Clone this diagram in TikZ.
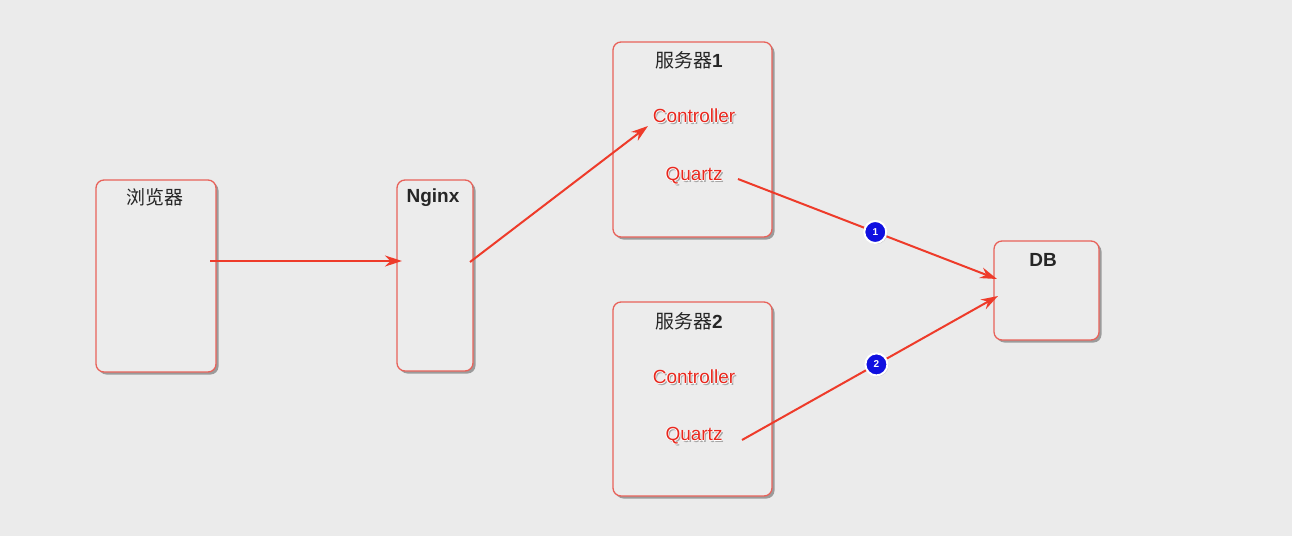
\documentclass[tikz,border=0pt]{standalone}
\usepackage{fontspec}
\setmainfont{Liberation Sans}
\newfontfamily\cjk{Noto Sans CJK SC}
\usetikzlibrary{shadows,arrows.meta}
\definecolor{bg}{HTML}{EBEBEB}
\definecolor{boxfill}{HTML}{ECECEC}
\definecolor{boxline}{HTML}{E8625A}
\definecolor{arrowred}{HTML}{EE3B2A}
\definecolor{txtred}{HTML}{E8281E}
\definecolor{badgeblue}{HTML}{1010E0}
\tikzset{
  panel/.style={draw=boxline, line width=1.3pt, fill=boxfill, rounded corners=8pt,
    drop shadow={shadow xshift=2.5pt, shadow yshift=-2.5pt, opacity=0.5, fill=black!70}},
  title/.style={font=\bfseries\fontsize{19}{22}\selectfont, text=black!85, inner sep=0pt},
  cjktitle/.style={font=\cjk\fontsize{19}{22}\selectfont, text=black!85, inner sep=0pt},
  comp/.style={font=\fontsize{19}{22}\selectfont, text=txtred, inner sep=0pt},
  halo/.style={font=\fontsize{19}{22}\selectfont, text=white, inner sep=0pt},
  link/.style={draw=arrowred, line width=2pt, -{Stealth[length=17pt,width=11pt]}},
  badge/.style={circle, fill=badgeblue, draw=white, line width=2pt, minimum size=22pt,
    inner sep=0pt, text=white, font=\bfseries\fontsize{10}{11}\selectfont,
    drop shadow={shadow xshift=1pt, shadow yshift=-1pt, opacity=0.4}},
}
\newcommand{\digitbf}[1]{{\normalfont\bfseries #1}}
\begin{document}
\begin{tikzpicture}[x=1pt,y=-1pt]
\useasboundingbox[fill=bg] (0,0) rectangle (1292,536);
% boxes
\draw[panel] (96,180) rectangle (216,372);
\draw[panel] (397,180) rectangle (473,371);
\draw[panel] (613,42) rectangle (772,237);
\draw[panel] (613,302) rectangle (772,496);
\draw[panel] (994,241) rectangle (1099,340);
% titles
\node[cjktitle] (browser) at (155,197) {浏览器};
\node[title] (nginx) at (433,198) {Nginx};
\node[cjktitle] (s1) at (689,60) {服务器\digitbf{1}};
\node[cjktitle] (s2) at (689,321) {服务器\digitbf{2}};
\node[title] (db) at (1043,260) {DB};
% components (white halo behind red text)
\foreach \y/\t in {116/Controller,176/Quartz,377/Controller,436/Quartz}{
  \node[halo, text=black!35] at (695.5,\y+1.5) {\t};
  \node[halo] at (694,\y+0.8) {\t};
  \node[halo] at (693.2,\y) {\t};
  \node[halo] at (694.8,\y) {\t};
}
\node[comp] (c1) at (694,116) {Controller};
\node[comp] (q1) at (694,176) {Quartz};
\node[comp] (c2) at (694,377) {Controller};
\node[comp] (q2) at (694,436) {Quartz};
% connector ends
\coordinate (bout) at (210,261);
\coordinate (nin) at (402,261);
\coordinate (nout) at (470,262);
\coordinate (cin) at (648,126);
\coordinate (q1out) at (738,179);
\coordinate (q2out) at (742,440);
\coordinate (dbin1) at (997,279);
\coordinate (dbin2) at (998,296);
% connectors
\draw[link] (bout) -- (nin);
\draw[link] (nout) -- (cin);
\draw[link] (q1out) -- (dbin1) node[badge, pos=0.53] (b1) {1};
\draw[link] (q2out) -- (dbin2) node[badge, pos=0.525] (b2) {2};
\end{tikzpicture}
\end{document}
